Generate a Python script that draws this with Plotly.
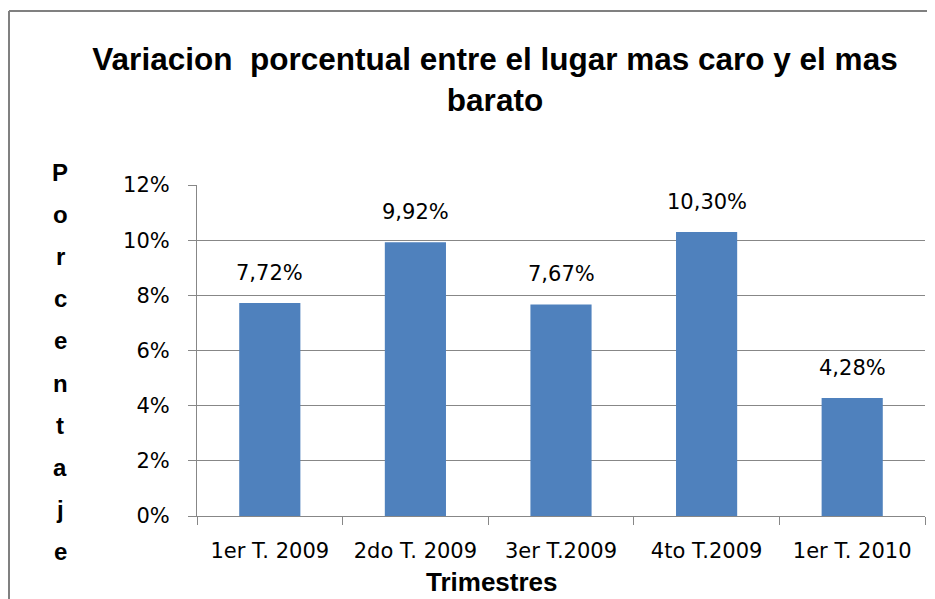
import plotly.graph_objects as go

# ── Data ───────────────────────────────────────────────────────────────────
trimestres = ['1er T. 2009', '2do T. 2009', '3er T.2009', '4to T.2009', '1er T. 2010']
variacion = [7.72, 9.92, 7.67, 10.30, 4.28]
y_ticks = [0, 2, 4, 6, 8, 10, 12]

BAR_COLOR = '#4F81BD'
GRID_COLOR = '#878787'
LABEL_FONT = 'DejaVu Sans, sans-serif'
TITLE_FONT = 'Liberation Sans Narrow, Arial Narrow, Liberation Sans, Arial, sans-serif'

# page body adds an 8px offset, so the figure is drawn 8px smaller
W, H = 927, 591
L, R, T, B = 189, 10, 177, 83
PH = H - T - B  # plot height in px
PW = W - L - R

fig = go.Figure(go.Bar(
    x=trimestres,
    y=variacion,
    marker=dict(color=BAR_COLOR, line=dict(width=0)),
    width=0.42,
    hoverinfo='skip',
))

# value labels above bars, with decimal comma
for cat, val in zip(trimestres, variacion):
    fig.add_annotation(
        x=cat, y=val, xref='x', yref='y',
        text=f'{val:.2f}%'.replace('.', ','),
        showarrow=False, yanchor='bottom', yshift=16,
        font=dict(family=LABEL_FONT, size=21, color='#000000'),
    )

# stacked vertical y-axis title
letters = list('Porcentaje')
for i, ch in enumerate(letters):
    fig.add_annotation(
        x=-0.188, y=(344 - i * 42.2) / PH,
        xref='paper', yref='paper',
        text=f'<b>{ch}</b>', showarrow=False,
        xanchor='center', yanchor='middle',
        font=dict(family='Liberation Sans, Arial, sans-serif', size=24, color='#000000'),
    )

# x-axis title
fig.add_annotation(
    x=295 / PW, y=-66 / PH,
    xref='paper', yref='paper',
    text='<b>Trimestres</b>', showarrow=False,
    xanchor='center', yanchor='middle',
    font=dict(family=TITLE_FONT, size=26, color='#000000'),
)

# outer chart frame (left and top edges)
fx = (1 - L) / PW
fig.add_shape(type='line', xref='paper', yref='paper',
              x0=fx, x1=fx, y0=-1, y1=505 / PH,
              line=dict(color='#808080', width=2))
fig.add_shape(type='line', xref='paper', yref='paper',
              x0=fx, x1=2, y0=505 / PH, y1=505 / PH,
              line=dict(color='#808080', width=2))

fig.update_layout(
    width=W, height=H,
    paper_bgcolor='white',
    plot_bgcolor='white',
    margin=dict(l=L, r=R, t=T, b=B, autoexpand=False),
    showlegend=False,
    title=dict(
        text='<b>Variacion  porcentual entre el lugar mas caro y el mas<br>barato</b>',
        x=487 / W, xanchor='center',
        y=1 - 62 / H, yanchor='top',
        font=dict(family=TITLE_FONT, size=31.5, color='#000000'),
    ),
)

fig.update_xaxes(
    type='category',
    automargin=False,
    showline=True, linecolor=GRID_COLOR, linewidth=1,
    ticks='outside', tickson='boundaries', ticklen=8, tickcolor=GRID_COLOR,
    ticklabelstandoff=16,
    tickfont=dict(family=LABEL_FONT, size=21, color='#000000'),
    showgrid=False,
)
fig.update_yaxes(
    range=[0, 12],
    automargin=False,
    tickvals=y_ticks,
    ticktext=[f'{v}%' for v in y_ticks],
    showline=True, linecolor=GRID_COLOR, linewidth=1,
    ticks='outside', ticklen=8, tickcolor=GRID_COLOR,
    ticklabelstandoff=14,
    showgrid=True, gridcolor=GRID_COLOR, gridwidth=1,
    zeroline=False,
    tickfont=dict(family=LABEL_FONT, size=21, color='#000000'),
)

fig.write_html('out.html')
